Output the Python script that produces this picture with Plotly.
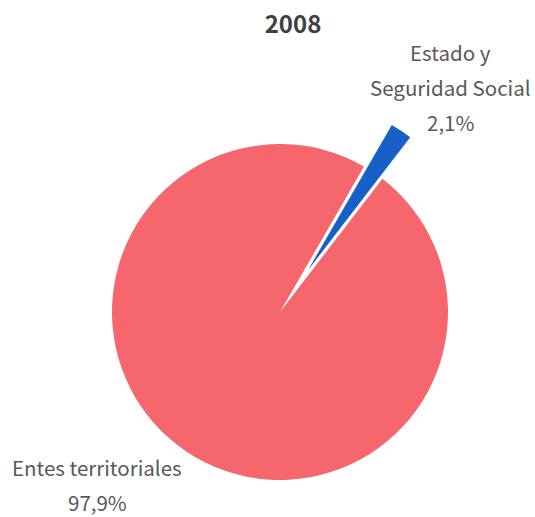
import math
import plotly.graph_objects as go

title = "2008"
labels = ["Estado y Seguridad Social", "Entes territoriales"]
label_lines = [["Estado y", "Seguridad Social"], ["Entes territoriales"]]
values = [2.1, 97.9]
colors = ["#1660C8", "#F5676C"]

W, H = 535, 517
cx, cy, r = 280, 312, 168
rotation = 30
pull_px = 50

def dom(cxp, cyp):
    return dict(x=[(cxp - r) / W, (cxp + r) / W],
                y=[1 - (cyp + r) / H, 1 - (cyp - r) / H])

mid = rotation + values[0] / sum(values) * 360 / 2
ox = pull_px * math.sin(math.radians(mid))
oy = -pull_px * math.cos(math.radians(mid))

fig = go.Figure()
fig.add_trace(go.Pie(labels=labels, values=values, sort=False, direction="clockwise",
                     rotation=rotation, textinfo="none", hoverinfo="label+percent",
                     marker=dict(colors=["rgba(0,0,0,0)", colors[1]], line=dict(width=0)),
                     domain=dom(cx, cy), showlegend=False))
fig.add_trace(go.Pie(labels=labels, values=values, sort=False, direction="clockwise",
                     rotation=rotation, textinfo="none", hoverinfo="label+percent",
                     marker=dict(colors=[colors[0], "rgba(0,0,0,0)"], line=dict(width=0)),
                     domain=dom(cx + ox, cy + oy), showlegend=False))

font = dict(family="Noto Sans CJK JP", size=20.5, color="#595959")
positions = [(450, 52), (97, 467)]
spacing = 35
anns = []
for lines, v, (ax, ay) in zip(label_lines, values, positions):
    texts = lines + [f"{v:.1f}%".replace(".", ",")]
    for i, t in enumerate(texts):
        anns.append(dict(text=t, x=ax / W, y=1 - (ay + i * spacing) / H, xref="paper", yref="paper",
                         showarrow=False, xanchor="center", yanchor="middle", font=font))

fig.update_layout(
    width=W, height=H, margin=dict(l=0, r=0, t=0, b=0),
    paper_bgcolor="white", plot_bgcolor="white",
    title=dict(text=f"<b>{title}</b>", x=293 / W, xanchor="center", y=1 - 25 / H,
               yanchor="middle", font=dict(family="Noto Sans CJK JP", size=24, color="#404040")),
    annotations=anns,
)
fig.write_html("out.html", config={"displayModeBar": False},
               post_script="document.body.style.margin='0';document.body.style.overflow='hidden';")
